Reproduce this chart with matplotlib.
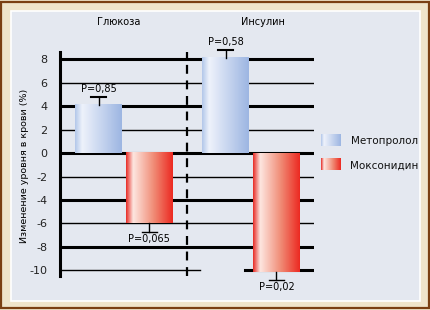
import numpy as np
import matplotlib
matplotlib.use("Agg")
import matplotlib.pyplot as plt
from matplotlib.colors import LinearSegmentedColormap
from matplotlib.patches import Rectangle

groups = ["Глюкоза", "Инсулин"]
series = ["Метопролол", "Моксонидин"]
metoprolol = [4.1, 8.1]
moxonidin = [-6.0, -10.1]
metoprolol_err = [0.7, 0.7]
moxonidin_err = [0.7, 0.7]
metoprolol_p = ["P=0,85", "P=0,58"]
moxonidin_p = ["P=0,065", "P=0,02"]
yticks = [8, 6, 4, 2, 0, -2, -4, -6, -8, -10]

blue_cmap = LinearSegmentedColormap.from_list(
    "b", [(0, "#b4c8ea"), (0.15, "#eef2fb"), (1, "#9db6e2")])
red_cmap = LinearSegmentedColormap.from_list(
    "r", [(0, "#e8302a"), (0.15, "#fde6e0"), (0.6, "#f08a74"), (1, "#ec2a22")])
grad = np.linspace(0, 1, 100)[np.newaxis, :]

fig = plt.figure(figsize=(4.31, 3.10), dpi=100)
fig.patch.set_facecolor("#efe4ca")
# frame and inner panel
fig.add_artist(Rectangle((1.5 / 431, 2.5 / 310), 427.5 / 431, 305.5 / 310,
                         transform=fig.transFigure, fill=False,
                         edgecolor="#7a3f12", lw=1.6, zorder=-10))
fig.add_artist(Rectangle((11 / 431, 9 / 310), 409 / 431, 290 / 310,
                         transform=fig.transFigure, facecolor="#e4e8f0",
                         edgecolor="white", lw=1.2, zorder=-10))

ax = fig.add_axes([60 / 431, 34 / 310, 254 / 431, 224 / 310])
ax.set_facecolor("none")
ax.set_xlim(-0.504, 1.496)
ax.set_ylim(-10.47, 8.6)

w = 0.37
off = 0.2
for i in range(2):
    for val, err, p, sign, cmap in [
        (metoprolol[i], metoprolol_err[i], metoprolol_p[i], -1, blue_cmap),
        (moxonidin[i], moxonidin_err[i], moxonidin_p[i], 1, red_cmap),
    ]:
        xc = i + sign * off
        ax.imshow(grad, cmap=cmap, aspect="auto", zorder=3,
                  extent=[xc - w / 2, xc + w / 2, 0, val])
        tip = val + err if val > 0 else val - err
        ax.plot([xc, xc], [val, tip], color="black", lw=1, zorder=4, clip_on=False)
        ax.plot([xc - 0.06, xc + 0.06], [tip, tip], color="black",
                lw=1.5 if val > 0 else 1.0, zorder=4, clip_on=False)
        if val > 0:
            ax.text(xc, tip + 0.25, p, ha="center", va="bottom", fontsize=7)
        else:
            ax.text(xc, tip - 0.2, p, ha="center", va="top", fontsize=7)

for y in yticks:
    lw = 2.2 if y % 4 == 0 else 1.0
    if y == -10:
        ax.plot([-0.504, 0.6], [y, y], color="black", lw=1.0, zorder=2)
        ax.plot([0.95, 1.496], [y, y], color="black", lw=2.2, zorder=2)
    else:
        ax.axhline(y, color="black", lw=lw, zorder=2)

ax.axvline(0.496, color="black", lw=1.6, ls=(0, (4, 3)), zorder=2)

for s in ["top", "right", "bottom"]:
    ax.spines[s].set_visible(False)
ax.spines["left"].set_linewidth(2.2)
ax.set_xticks([])
ax.set_yticks(yticks)
ax.set_yticklabels([str(t) for t in yticks], fontsize=8, color="#222222")
ax.tick_params(axis="y", length=0, pad=9)
ax.set_ylabel("Изменение уровня в крови (%)", fontsize=6.8)
ax.yaxis.set_label_coords(-0.122, 0.49)

title_x = [-0.04, 1.09]
for tx, g in zip(title_x, groups):
    ax.text(tx, 11.15, g, ha="center", va="center", fontsize=7)

# legend
lax = fig.add_axes([321 / 431, 1 - 146 / 310, 20 / 431, 12 / 310])
lax.imshow(grad, cmap=blue_cmap, aspect="auto")
lax.axis("off")
lax2 = fig.add_axes([321 / 431, 1 - 170 / 310, 20 / 431, 12 / 310])
lax2.imshow(grad, cmap=red_cmap, aspect="auto")
lax2.axis("off")
fig.text(351 / 431, 1 - 141 / 310, series[0], fontsize=7.5, va="center",
         color="#111111")
fig.text(350 / 431, 1 - 166 / 310, series[1], fontsize=7.5, va="center",
         color="#111111")

fig.savefig("out.png", dpi=100)
